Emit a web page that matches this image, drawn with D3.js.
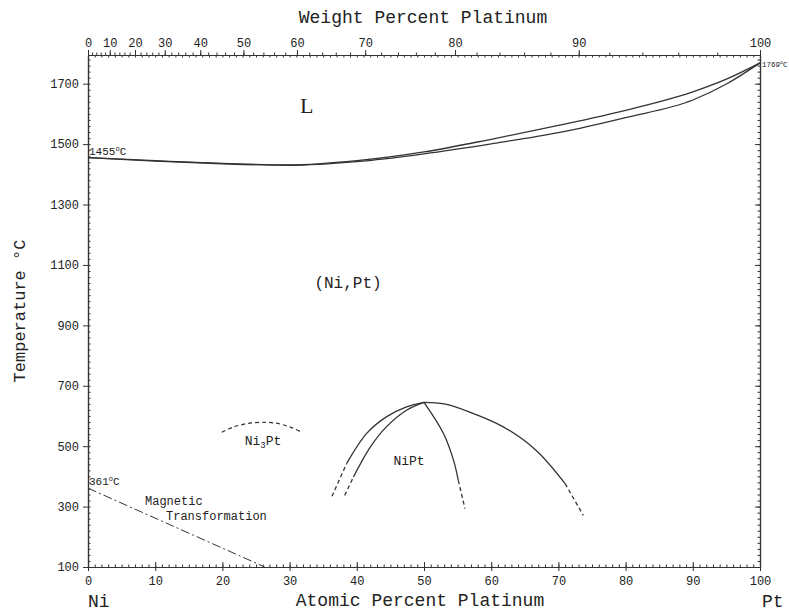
<!DOCTYPE html>
<html><head><meta charset="utf-8">
<script src="https://cdn.jsdelivr.net/npm/d3@7"></script>
<style>
body{margin:0;background:#fff;}
svg{display:block;}
text, tspan{fill:#222;}
</style></head>
<body>
<svg id="chart" width="789" height="611"></svg>
<script>
// ---------------- data ----------------
const atTicks = [0,10,20,30,40,50,60,70,80,90,100];
const tempTicks = [100,300,500,700,900,1100,1300,1500,1700];
const wtTicks = [0,10,20,30,40,50,60,70,80,90,100];
const massNi = 58.69, massPt = 195.08;

// liquidus / solidus  [at% Pt, °C]
const liquidus = [[0,1455],[10,1445],[20,1436],[30,1431],[40,1445],[50,1474],[60,1516],[70,1562],[80,1612],[90,1673],[95,1715],[100,1769]];
const solidus  = [[0,1455],[10,1444],[20,1435],[30,1430],[40,1442],[50,1468],[60,1501],[70,1538],[80,1588],[90,1646],[95,1699],[100,1769]];

// Ni3Pt ordering dome (dashed)
const ni3pt = [[19.9,546],[21.6,563],[23.5,574],[25.5,579],[28,576],[30.1,563],[31.8,546]];

// NiPt ordering boundaries
const niptOuterLeftSolid  = [[38.5,443],[41.5,543],[44.4,597],[47.4,630],[50,645]];
const niptOuterLeftDash   = [[36.3,334],[38.5,443]];
const niptInnerLeftSolid  = [[39.5,398],[42,497],[44.4,564],[47.4,619],[50,645]];
const niptInnerLeftDash   = [[38.2,337],[39.5,398]];
const niptInnerRightSolid = [[50,645],[52.9,542],[54.4,453],[55.1,387]];
const niptInnerRightDash  = [[55.1,387],[56.1,293]];
const niptOuterRightSolid = [[50,645],[53,640],[56.8,613],[61.8,564],[66.7,486],[71,376]];
const niptOuterRightDash  = [[71,376],[73.7,271]];

// magnetic transformation (dash-dot)
const magnetic = [[0,361],[26.3,100]];

// ---------------- drawing ----------------
const svg = d3.select("#chart");
const x = d3.scaleLinear().domain([0,100]).range([88,760]);
const y = d3.scaleLinear().domain([100,1795]).range([567,55]);
const wtToAt = w => { const a=w/massPt, b=(100-w)/massNi; return 100*a/(a+b); };

const mono = "'Liberation Mono','DejaVu Sans Mono',monospace";
const serif = "'Liberation Serif','DejaVu Serif',serif";
const stroke = "#333";

function styleAxis(g){
  g.select(".domain").attr("stroke",stroke).attr("stroke-width",1.2);
  g.selectAll(".tick line").attr("stroke",stroke).attr("stroke-width",1);
  g.selectAll(".tick text").attr("font-family",mono).attr("font-size",12).attr("fill","#222");
}
const range1 = (a,b,s) => d3.range(a,b+s/2,s);

// bottom: minor inward
svg.append("g").attr("transform","translate(0,567)")
  .call(d3.axisBottom(x).tickValues(range1(0,100,1)).tickSize(-2.5).tickSizeOuter(0).tickFormat(""))
  .call(styleAxis);
// bottom: major
svg.append("g").attr("transform","translate(0,567)")
  .call(d3.axisBottom(x).tickValues(atTicks).tickSize(4).tickSizeOuter(0).tickPadding(5).tickFormat(d3.format("d")))
  .call(styleAxis)
  .call(g=>g.selectAll(".tick line").attr("y1",-5));

// top: at% minor inward
svg.append("g").attr("transform","translate(0,55)")
  .call(d3.axisTop(x).tickValues(range1(0,100,1)).tickSize(-2.5).tickSizeOuter(0).tickFormat(""))
  .call(styleAxis);
// top: wt% minor
svg.append("g").attr("transform","translate(0,55)")
  .call(d3.axisTop(x).tickValues(range1(0,100,2).map(wtToAt)).tickSize(2.5).tickSizeOuter(0).tickFormat(""))
  .call(styleAxis);
// top: wt% major
svg.append("g").attr("transform","translate(0,55)")
  .call(d3.axisTop(x).tickValues(wtTicks.map(wtToAt)).tickSize(5).tickSizeOuter(0).tickPadding(3).tickFormat((d,i)=>wtTicks[i]))
  .call(styleAxis);

// left: minor inward
svg.append("g").attr("transform","translate(88,0)")
  .call(d3.axisLeft(y).tickValues(range1(100,1780,20)).tickSize(-2.5).tickSizeOuter(0).tickFormat(""))
  .call(styleAxis);
svg.append("g").attr("transform","translate(88,0)")
  .call(d3.axisLeft(y).tickValues(tempTicks).tickSize(5).tickSizeOuter(0).tickPadding(4).tickFormat(d3.format("d")))
  .call(styleAxis);

// right: minor + major inward
svg.append("g").attr("transform","translate(760,0)")
  .call(d3.axisRight(y).tickValues(range1(100,1780,20)).tickSize(-2.5).tickSizeOuter(0).tickFormat(""))
  .call(styleAxis);
svg.append("g").attr("transform","translate(760,0)")
  .call(d3.axisRight(y).tickValues(tempTicks).tickSize(-5).tickSizeOuter(0).tickFormat(""))
  .call(styleAxis);

// curves
const line = d3.line().x(d=>x(d[0])).y(d=>y(d[1])).curve(d3.curveMonotoneX);
const lineCR = d3.line().x(d=>x(d[0])).y(d=>y(d[1])).curve(d3.curveCatmullRom.alpha(0.5));
function draw(data, dash, w, gen){
  svg.append("path").attr("d",(gen||lineCR)(data)).attr("fill","none")
    .attr("stroke",stroke).attr("stroke-width",w||1.3)
    .attr("stroke-dasharray",dash||null);
}
draw(liquidus,null,1.3,line);
draw(solidus,null,1.3,line);
draw(ni3pt,"4,3",1.2);
draw(niptOuterLeftSolid); draw(niptOuterLeftDash,"4,3");
draw(niptInnerLeftSolid); draw(niptInnerLeftDash,"4,3");
draw(niptInnerRightSolid); draw(niptInnerRightDash,"4,3");
draw(niptOuterRightSolid); draw(niptOuterRightDash,"4,3");
draw(magnetic,"9,3,2,3",1);

// texts
function txt(xp,yp,s,size,family,anchor){
  return svg.append("text").attr("x",xp).attr("y",yp).attr("font-size",size).attr("fill","#222")
    .attr("font-family",family||mono).attr("text-anchor",anchor||"start").text(s);
}
txt(423,23,"Weight Percent Platinum",18,mono,"middle");
txt(420,606,"Atomic Percent Platinum",18,mono,"middle");
txt(88,607,"Ni",18,mono,"start");
txt(762,607,"Pt",18,mono,"start");
svg.append("text").attr("transform","translate(25,311) rotate(-90)").attr("fill","#222")
  .attr("font-family",mono).attr("font-size",17).attr("text-anchor","middle").text("Temperature °C");

txt(300,113,"L",22,serif,"start");
txt(348,288,"(Ni,Pt)",16,mono,"middle");
txt(409,465,"NiPt",13,mono,"middle");
const n3 = svg.append("text").attr("x",263).attr("y",445).attr("font-size",13).attr("fill","#222")
  .attr("font-family",mono).attr("text-anchor","middle");
n3.append("tspan").text("Ni");
n3.append("tspan").attr("font-size",9).attr("dy",3).text("3");
n3.append("tspan").attr("dy",-3).text("Pt");
txt(145,505,"Magnetic",12,mono,"start");
txt(166,520,"Transformation",12,mono,"start");

function degLabel(xp,yp,num,size){
  const s = size||12;
  const t = svg.append("text").attr("x",xp).attr("y",yp).attr("font-size",s)
    .attr("font-family",mono).attr("fill","#222");
  t.append("tspan").attr("fill","#222").text(num);
  t.append("tspan").attr("fill","#222").attr("font-size",s*0.65).attr("dy",-s*0.4).text("o");
  t.append("tspan").attr("fill","#222").attr("dy",s*0.4).text("C");
}
degLabel(89,155,"1455",11);
degLabel(89,485,"361",11);
degLabel(762,67,"1769",7.5);
</script>
</body></html>
